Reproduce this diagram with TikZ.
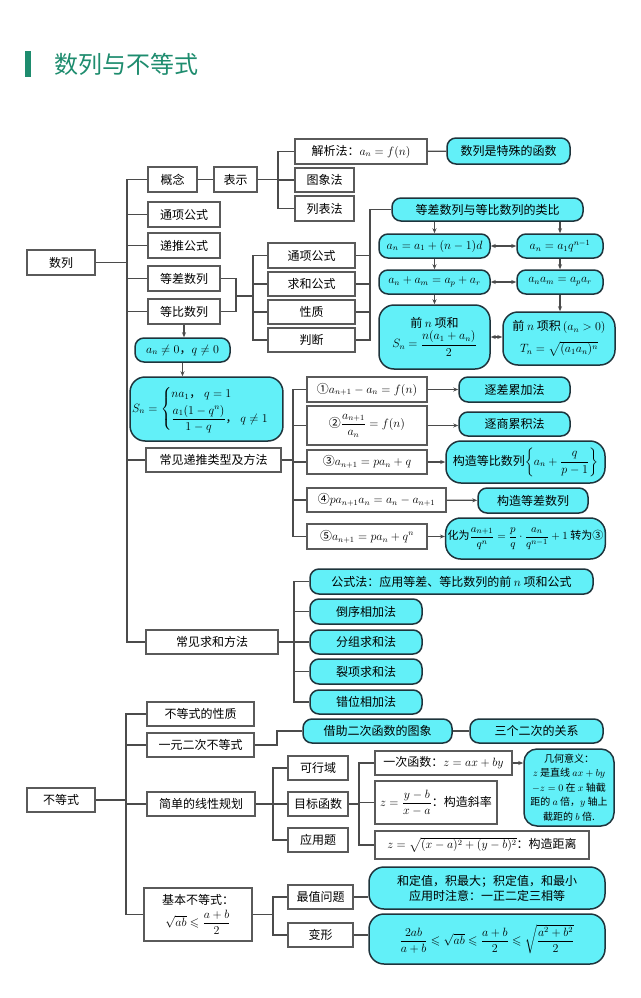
\documentclass[tikz,border=0pt]{standalone}
\usepackage{amsmath,amssymb}
\usepackage{fontspec}
\newfontfamily\cjk{Noto Sans CJK SC}
\usetikzlibrary{arrows.meta}
\definecolor{cyanfill}{RGB}{98,240,248}
\definecolor{cyanedge}{RGB}{30,52,60}
\definecolor{boxgray}{RGB}{90,90,90}
\definecolor{linegray}{RGB}{75,75,75}
\definecolor{titlegreen}{RGB}{30,140,110}
\newcommand\mkbox[7]{\node[#6, minimum width={#4-#2}, minimum height={#5-#3}] (#1) at ({(#2+#4)/2},{(#3+#5)/2}) {#7};}
\tikzset{
  basefont/.style={font=\cjk\fontsize{12}{15}\selectfont},
  pbox/.style={basefont, draw=boxgray, line width=1.1pt, fill=white, inner sep=2pt, align=center},
  cbox/.style={basefont, draw=cyanedge, line width=1.5pt, fill=cyanfill, rounded corners=9pt, inner sep=2pt, align=center},
  cboxL/.style={cbox, rounded corners=15pt},
  cboxS/.style={cbox, rounded corners=13pt, font=\cjk\fontsize{10}{14.5}\selectfont},
  ln/.style={draw=linegray, line width=1.3pt},
  arr/.style={ln, -{Stealth[length=5pt,width=4pt]}},
  darr/.style={ln, {Stealth[length=5pt,width=4pt]}-{Stealth[length=5pt,width=4pt]}},
}
\begin{document}
\begin{tikzpicture}[x=1pt,y=-1pt]
\useasboundingbox (0,0) rectangle (640,998);
% title
\fill[titlegreen] (25,51) rectangle (31,77);
\node[font=\cjk\fontsize{24}{28}\selectfont, text=titlegreen, anchor=west, inner sep=0pt] (title) at (54,64) {数列与不等式};

% ---------- 数列 ----------
\mkbox{shulie}{27}{250}{95}{275}{pbox}{数列}
\mkbox{gainian}{148}{167}{197}{192}{pbox}{概念}
\mkbox{biaoshi}{214}{167}{257}{192}{pbox}{表示}
\mkbox{jiexi}{295}{139}{427}{164}{pbox}{解析法：$a_n=f(n)$}
\mkbox{tuxiang}{295}{168}{354}{192}{pbox}{图象法}
\mkbox{liebiao}{295}{196}{354}{221}{pbox}{列表法}
\mkbox{teshu}{447}{138}{570}{164}{cbox}{数列是特殊的函数}
\mkbox{tongxiang}{148}{202}{220}{227}{pbox}{通项公式}
\mkbox{ditui}{148}{233}{220}{258}{pbox}{递推公式}
\mkbox{dengcha}{148}{266}{220}{291}{pbox}{等差数列}
\mkbox{dengbi}{148}{299}{220}{324}{pbox}{等比数列}
\mkbox{tx2}{268}{243}{355}{268}{pbox}{通项公式}
\mkbox{qh2}{268}{272}{355}{296}{pbox}{求和公式}
\mkbox{xz}{268}{300}{355}{324}{pbox}{性质}
\mkbox{pd}{268}{328}{355}{352}{pbox}{判断}
\mkbox{lb}{392}{198}{583}{221}{cbox}{等差数列与等比数列的类比}
\mkbox{a1}{379}{234}{490}{258}{cbox}{$a_n=a_1+(n-1)d$}
\mkbox{q1}{517}{234}{603}{258}{cbox}{$a_n=a_1q^{n-1}$}
\mkbox{a2}{379}{270}{490}{294}{cbox}{$a_n+a_m=a_p+a_r$}
\mkbox{q2}{517}{270}{603}{294}{cbox}{$a_na_m=a_pa_r$}
\mkbox{a3}{379}{305}{490}{369}{cboxL}{前 $n$ 项和\\[1pt]$S_n=\dfrac{n(a_1+a_n)}{2}$}
\mkbox{q3}{503}{312}{615}{365}{cboxL}{前 $n$ 项积\,$(a_n>0)$\\[7pt]$T_n=\sqrt{(a_1a_n)^n}$}
\mkbox{neq}{135}{338}{230}{362}{cbox}{$a_n\neq0$，$q\neq0$}
\mkbox{sn}{133}{377}{280}{441}{cboxL}{$S_n=\begin{cases} na_1\text{，}\ q=1\\[2pt] \dfrac{a_1(1-q^n)}{1-q}\text{，}\ q\neq1\end{cases}$}
\mkbox{digui}{146}{448}{281}{472}{pbox}{常见递推类型及方法}
\mkbox{r1}{307}{377}{427}{402}{pbox}{①$a_{n+1}-a_n=f(n)$}
\mkbox{r2}{307}{406}{427}{445}{pbox}{②$\dfrac{a_{n+1}}{a_n}=f(n)$}
\mkbox{r3}{307}{450}{427}{474}{pbox}{③$a_{n+1}=pa_n+q$}
\mkbox{r4}{307}{488}{446}{512}{pbox}{④$pa_{n+1}a_n=a_n-a_{n+1}$}
\mkbox{r5}{307}{524}{427}{549}{pbox}{⑤$a_{n+1}=pa_n+q^n$}
\mkbox{m1}{459}{377}{570}{402}{cbox}{逐差累加法}
\mkbox{m2}{459}{412}{570}{436}{cbox}{逐商累积法}
\mkbox{m3}{446}{441}{605}{483}{cboxL}{构造等比数列$\left\{a_n+\dfrac{q}{p-1}\right\}$}
\mkbox{m4}{478}{488}{588}{513}{cbox}{构造等差数列}
\mkbox{m5}{446}{518}{605}{559}{cboxL, font=\cjk\fontsize{11}{14}\selectfont}{化为$\dfrac{a_{n+1}}{q^n}=\dfrac{p}{q}\cdot\dfrac{a_n}{q^{n-1}}+1$ 转为③}
\mkbox{qiuhefa}{146}{630}{278}{654}{pbox}{常见求和方法}
\mkbox{s1}{310}{569}{593}{594}{cbox}{公式法：应用等差、等比数列的前 $n$ 项和公式}
\mkbox{s2}{310}{599}{422}{624}{cbox}{倒序相加法}
\mkbox{s3}{310}{630}{422}{654}{cbox}{分组求和法}
\mkbox{s4}{310}{659}{422}{684}{cbox}{裂项求和法}
\mkbox{s5}{310}{690}{422}{714}{cbox}{错位相加法}

% ---------- 不等式 ----------
\mkbox{budeng}{27}{788}{95}{812}{pbox}{不等式}
\mkbox{xzbd}{147}{702}{254}{726}{pbox}{不等式的性质}
\mkbox{yy}{147}{733}{254}{757}{pbox}{一元二次不等式}
\mkbox{jz}{303}{719}{452}{743}{cbox}{借助二次函数的图象}
\mkbox{sg}{470}{719}{603}{743}{cbox}{三个二次的关系}
\mkbox{xx}{147}{792}{255}{816}{pbox}{简单的线性规划}
\mkbox{kx}{288}{756}{348}{780}{pbox}{可行域}
\mkbox{mb}{288}{792}{348}{816}{pbox}{目标函数}
\mkbox{yyt}{288}{828}{348}{852}{pbox}{应用题}
\mkbox{yc}{375}{751}{512}{775}{pbox}{一次函数：$z=ax+by$}
\mkbox{xl}{375}{781}{497}{824}{pbox}{$z=\dfrac{y-b}{x-a}$：构造斜率}
\mkbox{jl}{375}{831}{589}{859}{pbox}{$z=\sqrt{(x-a)^2+(y-b)^2}$：构造距离}
\mkbox{jh}{524}{749}{614}{826}{cboxS}{几何意义：\\$z$ 是直线 $ax+by$\\$-z=0$ 在 $x$ 轴截\\距的 $a$ 倍，$y$ 轴上\\截距的 $b$ 倍.}
\mkbox{jb}{144}{888}{252}{941}{pbox, inner sep=1pt}{基本不等式：\\[4pt]$\sqrt{ab}\leqslant\dfrac{a+b}{2}$}
\mkbox{zz}{288}{885}{353}{909}{pbox}{最值问题}
\mkbox{bianxing}{288}{923}{353}{947}{pbox}{变形}
\mkbox{hd}{369}{867}{605}{909}{cboxL}{和定值，积最大；积定值，和最小\\应用时注意：一正二定三相等}
\mkbox{bxc}{369}{914}{605}{964}{cboxL}{$\dfrac{2ab}{a+b}\leqslant\sqrt{ab}\leqslant\dfrac{a+b}{2}\leqslant\sqrt{\dfrac{a^2+b^2}{2}}$}

% ---------- connectors: 数列 ----------
\coordinate (sp) at (127,0);
\draw[ln] (shulie.east) -- (sp |- shulie.east);
\draw[ln] (gainian.west) -- (sp |- gainian.west) -- (sp |- qiuhefa.west) -- (qiuhefa.west);
\foreach \n in {tongxiang,ditui,dengcha,dengbi,digui} \draw[ln] (\n.west) -- (sp |- \n.west);
\draw[ln] (gainian) -- (biaoshi);
\coordinate (b1) at (278,0);
\draw[ln] (biaoshi.east) -- (b1 |- biaoshi.east);
\draw[ln] (jiexi.west) -- (b1 |- jiexi.west) -- (b1 |- liebiao.west) -- (liebiao.west);
\draw[ln] (tuxiang.west) -- (b1 |- tuxiang.west);
\draw[ln] (jiexi) -- (teshu);
\coordinate (b2) at (236,0);
\draw[ln] (dengcha.east) -- (b2 |- dengcha.east) -- (b2 |- dengbi.east) -- (dengbi.east);
\coordinate (j2) at (236,296);
\coordinate (b3) at (253,0);
\draw[ln] (j2) -- (b3 |- j2);
\draw[ln] (tx2.west) -- (b3 |- tx2.west) -- (b3 |- pd.west) -- (pd.west);
\foreach \n in {qh2,xz} \draw[ln] (\n.west) -- (b3 |- \n.west);
\coordinate (b4) at (370,0);
\draw[ln] (lb.west) -- (b4 |- lb.west) -- (b4 |- pd.east) -- (pd.east);
\foreach \n in {tx2,qh2,xz} \draw[ln] (\n.east) -- (b4 |- \n.east);
\draw[arr] (lb.south -| a1) -- (a1.north);
\draw[arr] (lb.south -| q1) -- (q1.north);
\draw[arr] (a1) -- (a2);
\draw[arr] (q1) -- (q2);
\draw[arr] (a2.south) -- (a2.south |- a3.north);
\draw[arr] (q2.south) -- (q2.south |- q3.north);
\draw[darr] (a1) -- (q1);
\draw[darr] (a2) -- (q2);
\draw[darr] (a3.east) -- (a3.east -| q3.west);
\draw[arr] (dengbi.south) -- (dengbi.south |- neq.north);
\draw[arr] (neq.south) -- (neq.south |- sn.north);
\coordinate (b5) at (293,0);
\draw[ln] (digui.east) -- (b5 |- digui.east);
\draw[ln] (r1.west) -- (b5 |- r1.west) -- (b5 |- r5.west) -- (r5.west);
\foreach \n in {r2,r3,r4} \draw[ln] (\n.west) -- (b5 |- \n.west);
\draw[arr] (r1) -- (m1);
\draw[arr] (r2.east) -- (r2.east -| m2.west);
\draw[arr] (r3.east) -- (r3.east -| m3.west);
\draw[arr] (r4) -- (m4);
\draw[arr] (r5.east) -- (r5.east -| m5.west);
\coordinate (b6) at (294,0);
\draw[ln] (qiuhefa.east) -- (b6 |- qiuhefa.east);
\draw[ln] (s1.west) -- (b6 |- s1.west) -- (b6 |- s5.west) -- (s5.west);
\foreach \n in {s2,s3,s4} \draw[ln] (\n.west) -- (b6 |- \n.west);

% ---------- connectors: 不等式 ----------
\coordinate (sp2) at (126,0);
\draw[ln] (budeng.east) -- (sp2 |- budeng.east);
\draw[ln] (xzbd.west) -- (sp2 |- xzbd.west) -- (sp2 |- jb.west) -- (jb.west);
\foreach \n in {yy,xx} \draw[ln] (\n.west) -- (sp2 |- \n.west);
\coordinate (k1) at (277,0);
\draw[ln] (yy.east) -- (k1 |- yy.east) -- (k1 |- jz.west) -- (jz.west);
\draw[ln] (jz) -- (sg);
\coordinate (b7) at (273,0);
\draw[ln] (xx.east) -- (b7 |- xx.east);
\draw[ln] (kx.west) -- (b7 |- kx.west) -- (b7 |- yyt.west) -- (yyt.west);
\draw[ln] (mb.west) -- (b7 |- mb.west);
\coordinate (b8) at (359,0);
\draw[ln] (mb.east) -- (b8 |- mb.east);
\draw[ln] (yc.west) -- (b8 |- yc.west) -- (b8 |- jl.west) -- (jl.west);
\draw[ln] (xl.west) -- (b8 |- xl.west);
\draw[arr] (yc.east) -- (yc.east -| jh.west);
\coordinate (b9) at (273,0);
\draw[ln] (jb.east) -- (b9 |- jb.east);
\draw[ln] (zz.west) -- (b9 |- zz.west) -- (b9 |- bianxing.west) -- (bianxing.west);
\draw[ln] (zz.east) -- (zz.east -| hd.west);
\draw[ln] (bianxing.east) -- (bianxing.east -| bxc.west);
\end{tikzpicture}
\end{document}
